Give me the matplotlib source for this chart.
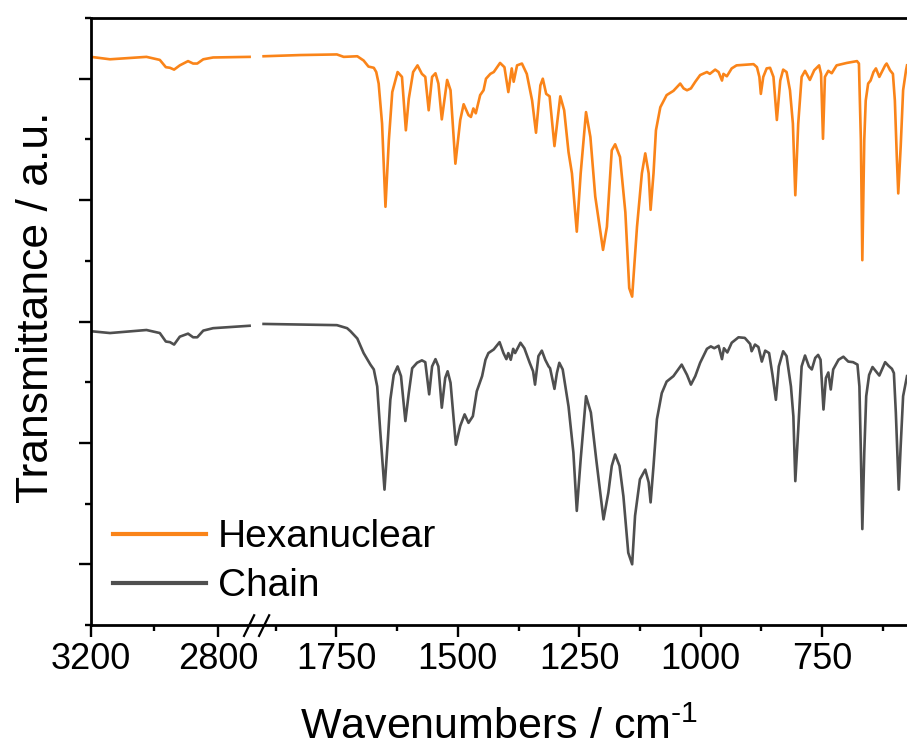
"""FTIR transmittance of the hexanuclear and chain compounds, broken wavenumber axis."""

import matplotlib

matplotlib.use("Agg")
import matplotlib.pyplot as plt
import matplotlib.ticker as mticker
import numpy as np

plt.rcParams["font.family"] = ["Liberation Sans", "DejaVu Sans"]
plt.rcParams["mathtext.fontset"] = "custom"
plt.rcParams["mathtext.rm"] = "Liberation Sans"

HEX_COLOR = "#FA8419"
CHAIN_COLOR = "#4F4F4F"

# --- data (wavenumber in cm-1, transmittance in a.u.) ---
HEX_LEFT_WN = [3200, 3140, 3025, 2983, 2964, 2951, 2938, 2920, 2894, 2878, 2865, 2846, 2815, 2700]
HEX_LEFT_T = [83.6, 83.2, 83.6, 83.1, 81.9, 81.8, 81.5, 82.2, 82.9, 82.5, 82.5, 83.2, 83.5, 83.6]

HEX_RIGHT_WN = [
    1900, 1824, 1749, 1735, 1707, 1694, 1684, 1673, 1668, 1663, 1656, 1649, 1642, 1635, 1624,
    1615, 1607, 1601, 1592, 1583, 1574, 1567, 1560, 1553, 1546, 1540, 1533, 1522, 1515, 1505,
    1495, 1488, 1478, 1473, 1468, 1463, 1454, 1447, 1442, 1433, 1426, 1413, 1404, 1396, 1389,
    1385, 1378, 1368, 1358, 1347, 1339, 1330, 1325, 1318, 1311, 1301, 1289, 1281, 1272, 1265,
    1255, 1247, 1236, 1227, 1217, 1201, 1193, 1183, 1176, 1166, 1155, 1147, 1141, 1131, 1121,
    1114, 1107, 1103, 1097, 1092, 1083, 1070, 1056, 1042, 1035, 1028, 1020, 1011, 1001, 987,
    981, 970, 963, 956, 953, 946, 936, 926, 891, 884, 879, 876, 871, 864, 857,
    850, 843, 836, 830, 823, 816, 810, 805, 799, 792, 785, 775, 766, 756, 752,
    748, 744, 737, 730, 720, 699, 678, 674, 670, 667, 663, 660, 655, 650, 644,
    639, 632, 627, 620, 617, 613, 610, 604, 600, 596, 593, 588, 583, 577, 575,
]
HEX_RIGHT_T = [
    83.7, 83.9, 84.0, 83.6, 83.7, 83.0, 82.0, 81.8, 81.1, 79.2, 72.6, 58.9, 69.9, 77.8, 81.1,
    80.3, 71.5, 76.7, 81.1, 82.2, 80.8, 80.3, 74.8, 80.3, 80.9, 79.2, 73.3, 79.8, 78.1, 66.0,
    73.2, 75.8, 74.0, 73.7, 75.1, 74.3, 77.3, 78.1, 80.0, 80.8, 81.1, 82.6, 81.9, 77.8, 81.7,
    79.5, 82.2, 82.5, 80.8, 76.4, 71.1, 78.9, 80.0, 77.5, 77.1, 68.9, 77.1, 74.8, 67.9, 64.4,
    54.8, 64.4, 74.5, 70.4, 60.6, 51.8, 55.6, 68.2, 69.2, 67.1, 58.0, 45.5, 44.1, 55.6, 64.4,
    67.7, 64.4, 58.4, 64.4, 71.5, 75.3, 77.3, 78.0, 79.2, 78.4, 78.1, 78.4, 79.5, 80.6, 81.1,
    80.8, 81.5, 81.1, 79.7, 80.8, 80.4, 81.7, 82.2, 82.4, 81.9, 80.3, 77.5, 80.3, 81.7, 81.8,
    80.3, 73.2, 79.7, 81.5, 81.1, 78.1, 72.6, 60.8, 72.6, 80.3, 81.3, 79.8, 81.4, 82.2, 80.8,
    70.1, 80.3, 81.3, 80.9, 82.2, 82.6, 82.9, 82.5, 69.9, 50.1, 69.9, 76.4, 79.2, 79.7, 81.1,
    81.7, 80.3, 81.1, 82.2, 82.5, 81.9, 81.4, 80.8, 76.4, 67.1, 61.1, 68.8, 78.1, 81.4, 82.2,
]

CHAIN_LEFT_WN = [3200, 3140, 3025, 2983, 2964, 2951, 2938, 2920, 2894, 2878, 2865, 2846, 2815, 2700]
CHAIN_LEFT_T = [38.4, 38.1, 38.6, 38.1, 36.7, 36.6, 36.2, 37.5, 38.0, 37.4, 37.4, 38.5, 38.9, 39.3]

CHAIN_RIGHT_WN = [
    1900, 1749, 1728, 1721, 1707, 1694, 1680, 1673, 1666, 1660, 1651, 1644, 1639, 1632, 1624,
    1617, 1608, 1601, 1594, 1584, 1574, 1567, 1559, 1553, 1546, 1540, 1533, 1526, 1521, 1515,
    1504, 1495, 1486, 1478, 1469, 1461, 1450, 1443, 1437, 1426, 1414, 1406, 1400, 1396, 1391,
    1386, 1382, 1371, 1363, 1352, 1345, 1341, 1334, 1327, 1320, 1313, 1310, 1301, 1296, 1291,
    1284, 1272, 1262, 1255, 1247, 1236, 1226, 1215, 1200, 1190, 1183, 1176, 1167, 1159, 1149,
    1141, 1135, 1125, 1114, 1107, 1103, 1097, 1090, 1080, 1070, 1056, 1039, 1028, 1020, 1011,
    1001, 987, 979, 972, 963, 956, 952, 945, 936, 922, 909, 898, 895, 888, 881,
    874, 867, 859, 852, 845, 839, 830, 823, 814, 809, 805, 799, 792, 785, 777,
    771, 764, 758, 753, 747, 742, 737, 732, 727, 716, 706, 696, 686, 677, 673,
    670, 667, 663, 659, 653, 646, 639, 632, 626, 620, 613, 606, 602, 598, 592,
    588, 583, 575,
]
CHAIN_RIGHT_T = [
    39.6, 39.4, 38.9, 38.4, 37.2, 34.8, 32.9, 32.1, 29.3, 22.2, 12.3, 20.6, 27.1, 31.2, 32.6,
    31.0, 23.6, 28.2, 32.3, 33.2, 33.6, 33.3, 28.0, 32.6, 33.8, 32.6, 25.8, 30.7, 31.8, 29.9,
    19.7, 22.8, 24.7, 23.3, 24.4, 28.5, 31.0, 33.7, 34.8, 35.4, 36.6, 34.8, 33.8, 34.8, 33.7,
    35.5, 34.8, 36.5, 35.6, 33.2, 31.8, 29.6, 34.3, 35.2, 33.7, 32.6, 32.3, 28.9, 31.5, 33.2,
    32.1, 26.0, 18.4, 8.8, 17.3, 27.7, 25.0, 17.3, 7.4, 11.8, 16.2, 18.1, 16.2, 11.2, 1.9,
    0.0, 8.0, 14.0, 15.6, 13.5, 10.2, 16.2, 23.9, 28.2, 30.1, 31.0, 32.9, 31.2, 29.6, 31.0,
    33.2, 35.5, 35.9, 35.6, 36.0, 33.8, 35.6, 34.9, 36.5, 37.4, 37.3, 36.3, 35.1, 36.2, 35.8,
    33.4, 35.2, 34.8, 31.2, 27.1, 32.6, 35.1, 34.3, 29.3, 24.4, 13.7, 22.2, 32.6, 34.4, 32.6,
    32.1, 34.0, 34.5, 33.7, 25.5, 30.7, 31.6, 28.8, 32.1, 33.7, 34.2, 33.4, 33.3, 32.9, 29.3,
    18.4, 5.8, 18.4, 27.7, 31.2, 32.5, 31.8, 31.1, 32.2, 33.3, 32.7, 32.2, 31.5, 25.0, 12.3,
    19.5, 27.7, 31.0,
]

X_MAJOR_TICKS = [3200, 2800, 1750, 1500, 1250, 1000, 750]
X_MINOR_TICKS = [3000, 1875, 1625, 1375, 1125, 875, 625]

# --- broken axis: 3200-2700 compressed, short gap, then 1900-575 ---
BREAK_HIGH = 2700.0
BREAK_LOW = 1900.0
GAP_WIDTH = 28.8
LEFT_COMPRESSION = 0.6533


def forward(w):
    w = np.asarray(w, dtype=float)
    return np.where(
        w <= BREAK_LOW,
        w - BREAK_LOW,
        np.where(
            w <= BREAK_HIGH,
            (w - BREAK_LOW) * GAP_WIDTH / (BREAK_HIGH - BREAK_LOW),
            GAP_WIDTH + (w - BREAK_HIGH) * LEFT_COMPRESSION,
        ),
    )


def inverse(u):
    u = np.asarray(u, dtype=float)
    return np.where(
        u <= 0,
        u + BREAK_LOW,
        np.where(
            u <= GAP_WIDTH,
            BREAK_LOW + u * (BREAK_HIGH - BREAK_LOW) / GAP_WIDTH,
            BREAK_HIGH + (u - GAP_WIDTH) / LEFT_COMPRESSION,
        ),
    )


def draw_break_marks(ax, x_lo, x_hi):
    span = forward(x_lo) - forward(x_hi)
    center = (forward(x_lo) - forward((BREAK_LOW + BREAK_HIGH) / 2)) / span
    for offset in (-0.0092, 0.0092):
        xc = center + offset
        ax.plot([xc - 0.0062, xc + 0.0062], [-0.018, 0.016], transform=ax.transAxes,
                color="black", linewidth=1.6, clip_on=False, zorder=5)


def main():
    fig = plt.figure(figsize=(9.07, 7.54), dpi=100)
    ax = fig.add_axes([0.1003, 0.1711, 0.8997, 0.805])

    ax.set_xscale("function", functions=(forward, inverse))

    ax.plot(HEX_LEFT_WN, HEX_LEFT_T, color=HEX_COLOR, linewidth=1.9, label="Hexanuclear")
    ax.plot(HEX_RIGHT_WN, HEX_RIGHT_T, color=HEX_COLOR, linewidth=1.9)
    ax.plot(CHAIN_LEFT_WN, CHAIN_LEFT_T, color=CHAIN_COLOR, linewidth=1.9, label="Chain")
    ax.plot(CHAIN_RIGHT_WN, CHAIN_RIGHT_T, color=CHAIN_COLOR, linewidth=1.9)

    x_lo, x_hi = 3200, 575
    ax.set_xlim(x_lo, x_hi)
    ax.set_ylim(-10, 90)

    ax.xaxis.set_major_locator(mticker.FixedLocator(X_MAJOR_TICKS))
    ax.xaxis.set_minor_locator(mticker.FixedLocator(X_MINOR_TICKS))
    ax.xaxis.set_major_formatter(mticker.StrMethodFormatter("{x:.0f}"))
    ax.xaxis.set_minor_formatter(mticker.NullFormatter())
    ax.yaxis.set_major_locator(mticker.MultipleLocator(20))
    ax.yaxis.set_minor_locator(mticker.MultipleLocator(10))

    ax.tick_params(which="major", direction="out", length=8.6, width=1.7, labelsize=26)
    ax.tick_params(which="minor", direction="out", length=4.3, width=1.7)
    ax.tick_params(axis="y", labelleft=False)
    for side in ("left", "bottom", "top"):
        ax.spines[side].set_linewidth(2.0)
    ax.spines["right"].set_visible(False)

    ax.set_xlabel("Wavenumbers / cm$^{\\text{-1}}$", fontsize=31)
    ax.xaxis.set_label_coords(0.5, -0.136)
    ax.set_ylabel("Transmittance / a.u.", fontsize=32)
    ax.yaxis.set_label_coords(-0.042, 0.523)

    draw_break_marks(ax, x_lo, x_hi)

    leg = ax.legend(loc="upper left", bbox_to_anchor=(0.027, 0.174), frameon=False, fontsize=28,
                    borderpad=0, borderaxespad=0, handlelength=2.4, handletextpad=0.3,
                    labelspacing=0.33)
    for line in leg.get_lines():
        line.set_linewidth(3.0)

    fig.savefig("out.png", dpi=100)


if __name__ == "__main__":
    main()
